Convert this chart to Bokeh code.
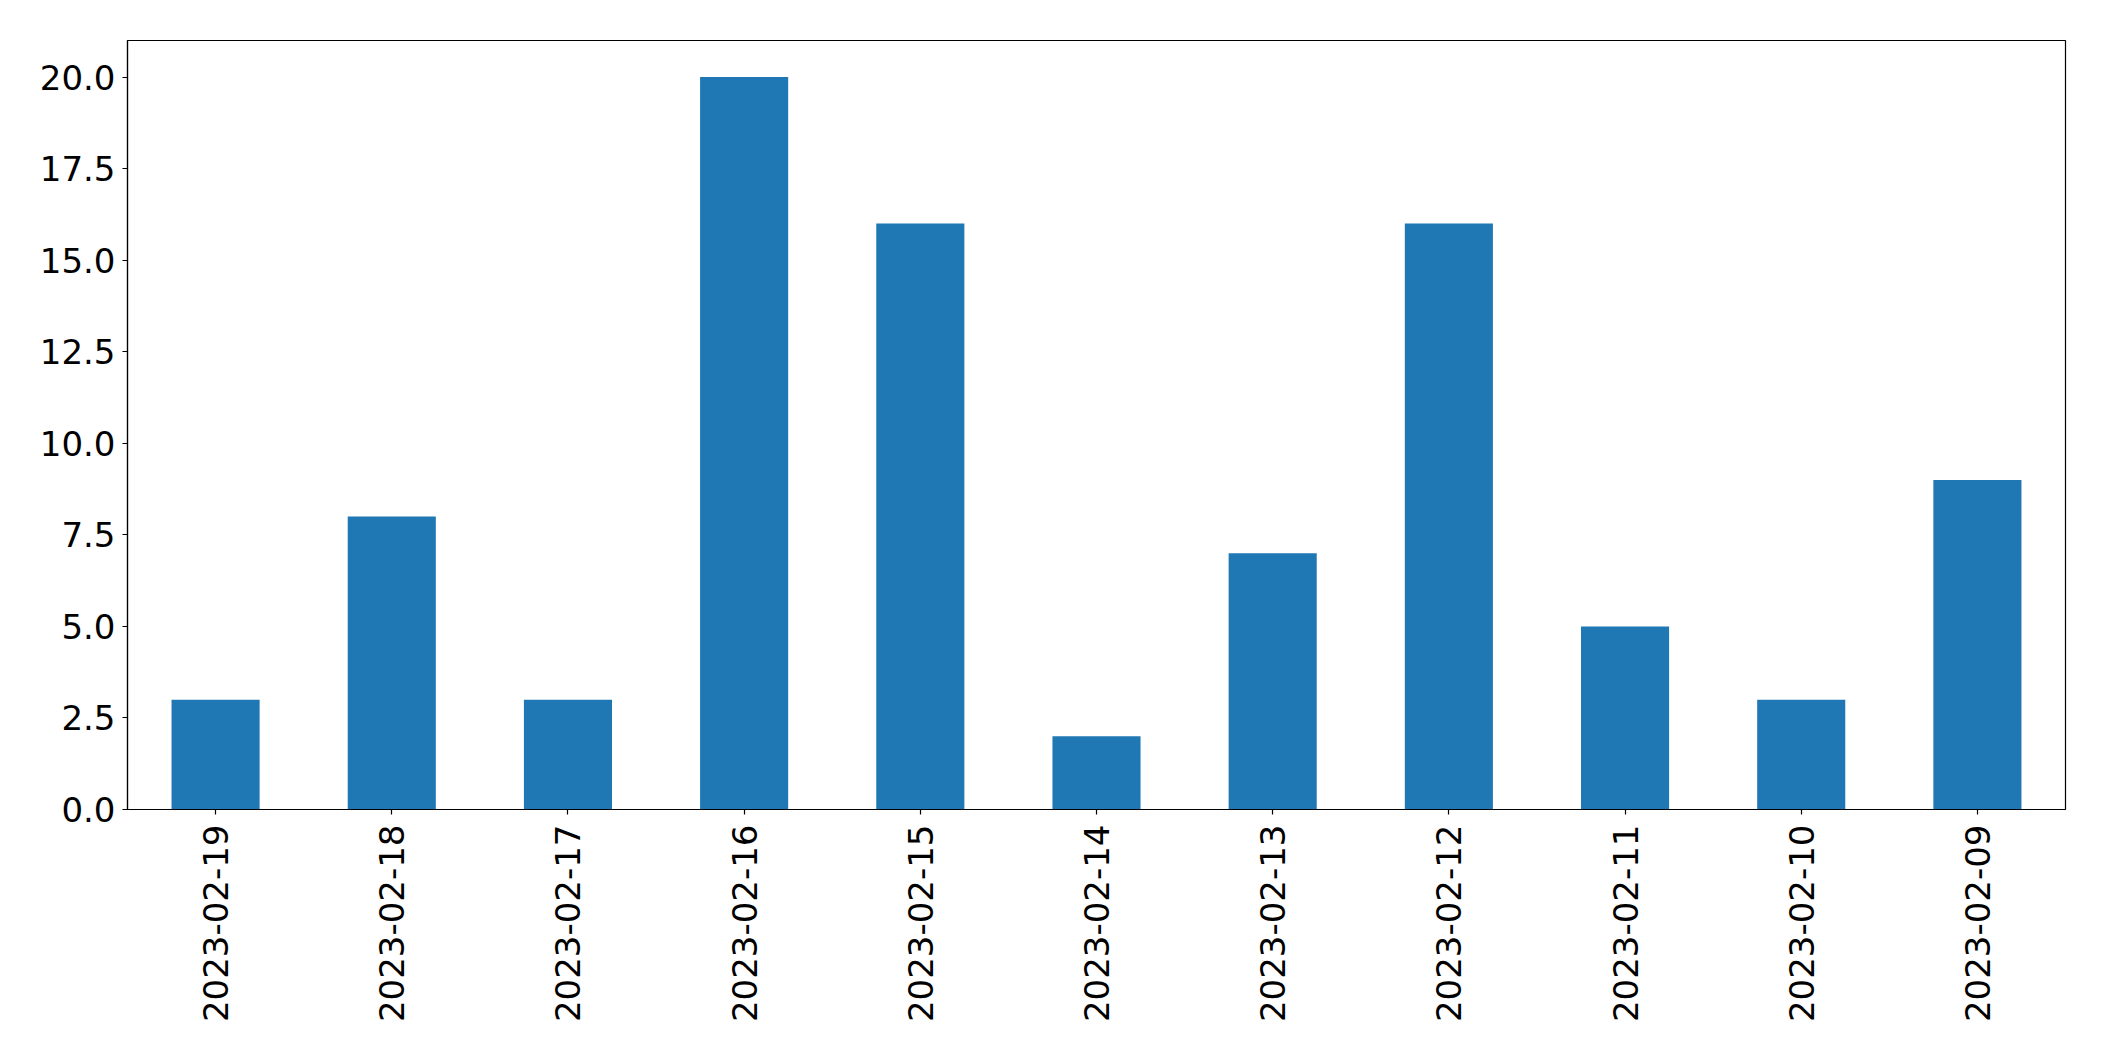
import math
from bokeh.plotting import figure
from bokeh.models import FactorRange, Range1d, FixedTicker, NumeralTickFormatter
from bokeh.embed import file_html
from bokeh.resources import INLINE

dates = ["2023-02-19", "2023-02-18", "2023-02-17", "2023-02-16", "2023-02-15",
         "2023-02-14", "2023-02-13", "2023-02-12", "2023-02-11", "2023-02-10",
         "2023-02-09"]
counts = [3, 8, 3, 20, 16, 2, 7, 16, 5, 3, 9]
y_ticks = [0, 2.5, 5, 7.5, 10, 12.5, 15, 17.5, 20]

p = figure(width=2088, height=1045, x_range=FactorRange(factors=dates, range_padding=0),
           y_range=Range1d(0, 21), output_backend="svg", toolbar_location=None,
           min_border_left=127, min_border_right=23, min_border_top=40, min_border_bottom=236)

p.vbar(x=dates, top=counts, width=0.5, color="#1f77b4", line_color=None)

p.xgrid.visible = False
p.ygrid.visible = False
p.outline_line_color = "black"
p.outline_line_width = 1.2
p.outline_line_alpha = 1

for ax in (p.xaxis[0], p.yaxis[0]):
    ax.axis_line_color = "black"
    ax.axis_line_width = 1.2
    ax.major_tick_line_color = "black"
    ax.major_tick_line_width = 1.2
    ax.major_tick_out = 5
    ax.major_tick_in = 0
    ax.minor_tick_line_color = None
    ax.major_label_text_font = "DejaVu Sans"
    ax.major_label_text_font_size = "34px"
    ax.major_label_text_color = "black"

p.yaxis.ticker = FixedTicker(ticks=y_ticks)
p.yaxis.formatter = NumeralTickFormatter(format="0.0")
p.yaxis.major_label_standoff = 7
p.xaxis.major_label_orientation = math.pi / 2
p.xaxis.major_label_standoff = 10

open("out.html", "w").write(file_html(p, INLINE))
